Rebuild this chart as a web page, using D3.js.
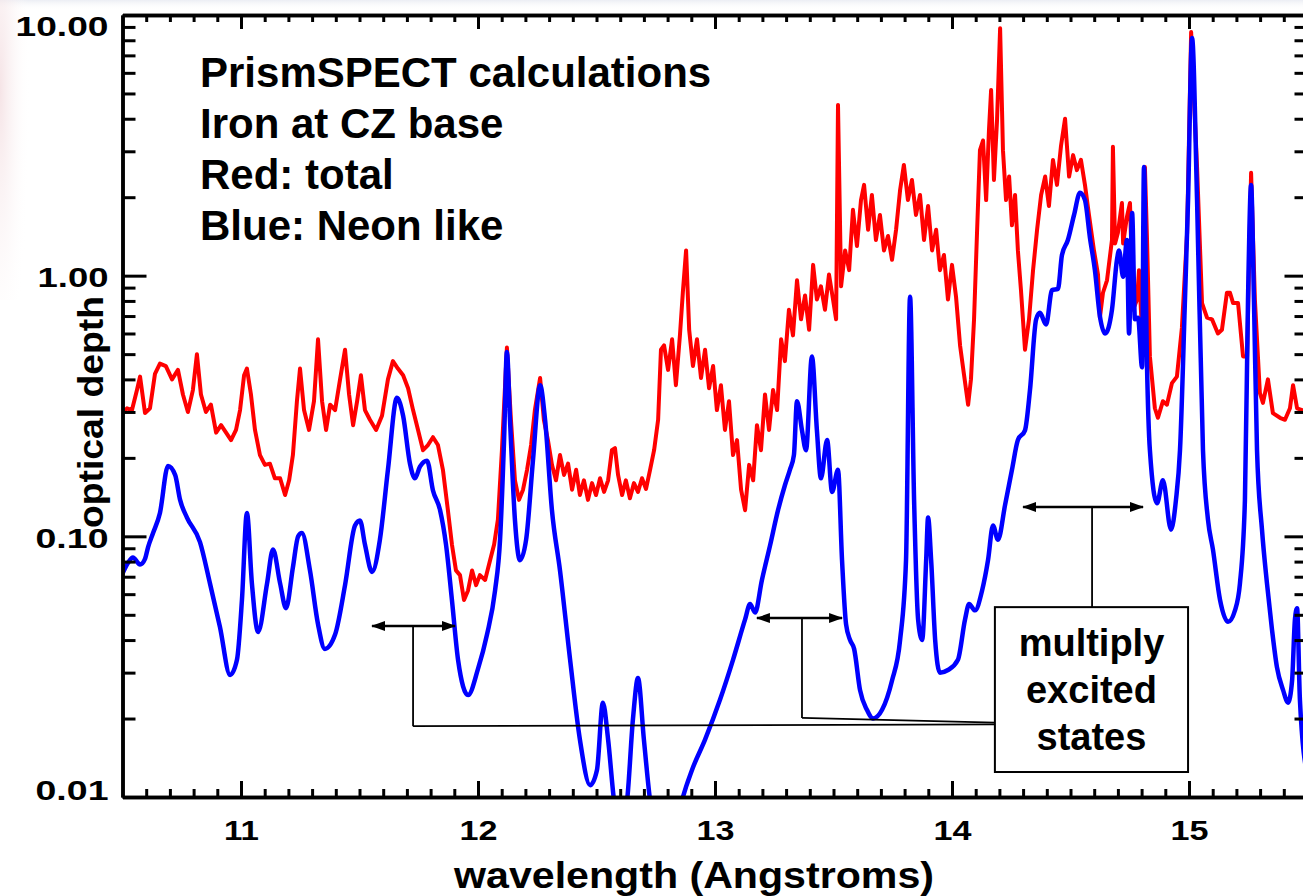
<!DOCTYPE html>
<html>
<head>
<meta charset="utf-8">
<script src="https://cdn.jsdelivr.net/npm/d3@7"></script>
<style>
  body { margin: 0; background: #ffffff; }
  svg { display: block; }
  text { font-family: "Liberation Sans", Arial, Helvetica, sans-serif; font-weight: bold; fill: #000; }
</style>
</head>
<body>
<svg id="chart" width="1303" height="896"></svg>
<script>
// ---------------- DATA ----------------
const xMajorTicks = [11, 12, 13, 14, 15];
const yMajorTicks = [0.01, 0.1, 1, 10];
const yTickLabels = ["0.01", "0.10", "1.00", "10.00"];

// Blue: Neon-like optical depth  [wavelength (A), optical depth]
const neonLike = [
 [10.500,0.072],[10.523,0.079],[10.544,0.083],[10.574,0.078],[10.595,0.082],[10.608,0.091],[10.629,0.103],[10.658,0.123],
 [10.692,0.186],[10.722,0.172],[10.743,0.138],[10.772,0.118],[10.827,0.095],[10.869,0.066],[10.911,0.045],[10.954,0.0294],
 [10.983,0.0336],[11.004,0.057],[11.025,0.123],[11.046,0.066],[11.072,0.043],[11.110,0.066],[11.135,0.089],[11.165,0.066],
 [11.190,0.053],[11.219,0.076],[11.241,0.100],[11.257,0.103],[11.291,0.074],[11.325,0.046],[11.354,0.037],[11.397,0.042],
 [11.439,0.065],[11.481,0.110],[11.502,0.115],[11.523,0.093],[11.553,0.073],[11.586,0.097],[11.620,0.180],[11.658,0.340],
 [11.684,0.290],[11.713,0.190],[11.734,0.167],[11.755,0.185],[11.785,0.195],[11.810,0.150],[11.840,0.126],[11.865,0.093],
 [11.890,0.057],[11.916,0.0335],[11.958,0.0246],[12.000,0.031],[12.038,0.042],[12.072,0.062],[12.093,0.097],[12.110,0.234],
 [12.122,0.510],[12.135,0.280],[12.156,0.115],[12.177,0.081],[12.203,0.097],[12.232,0.196],[12.262,0.380],[12.283,0.280],
 [12.312,0.126],[12.346,0.074],[12.388,0.034],[12.430,0.0166],[12.473,0.0111],[12.502,0.0127],[12.527,0.023],[12.549,0.0166],
 [12.574,0.0097],[12.599,0.0075],[12.629,0.0097],[12.654,0.020],[12.675,0.0286],[12.700,0.0166],[12.726,0.0097],[12.768,0.0063],
 [12.819,0.0063],[12.861,0.0097],[12.903,0.0127],[12.958,0.0166],[13.021,0.0236],[13.076,0.0336],[13.127,0.048],[13.148,0.055],
 [13.169,0.051],[13.198,0.068],[13.232,0.092],[13.266,0.126],[13.295,0.157],[13.316,0.180],[13.333,0.205],[13.346,0.330],
 [13.367,0.255],[13.384,0.214],[13.409,0.490],[13.430,0.255],[13.447,0.167],[13.473,0.234],[13.494,0.148],[13.519,0.180],
 [13.536,0.081],[13.553,0.046],[13.570,0.040],[13.587,0.037],[13.612,0.0257],[13.641,0.0216],[13.667,0.020],[13.705,0.0216],
 [13.747,0.028],[13.781,0.040],[13.806,0.081],[13.823,0.830],[13.840,0.138],[13.857,0.048],[13.874,0.040],[13.891,0.081],
 [13.899,0.118],[13.912,0.081],[13.929,0.040],[13.949,0.030],[13.983,0.0307],[14.025,0.0336],[14.055,0.048],[14.072,0.055],
 [14.097,0.052],[14.127,0.062],[14.152,0.081],[14.173,0.110],[14.194,0.097],[14.224,0.132],[14.253,0.180],[14.278,0.234],
 [14.308,0.255],[14.329,0.364],[14.355,0.680],[14.371,0.720],[14.397,0.650],[14.422,0.880],[14.447,0.890],[14.464,1.20],
 [14.489,1.37],[14.515,1.71],[14.540,2.08],[14.561,1.95],[14.582,1.40],[14.603,1.05],[14.624,0.70],[14.646,0.60],
 [14.675,0.74],[14.696,1.15],[14.705,1.25],[14.722,0.99],[14.738,1.37],[14.747,0.60],[14.760,1.74],[14.772,0.68],
 [14.785,0.69],[14.802,0.445],[14.810,2.61],[14.823,0.445],[14.835,0.214],[14.865,0.134],[14.890,0.164],[14.924,0.106],
 [14.945,0.138],[14.962,0.214],[14.983,0.81],[14.996,1.95],[15.013,8.16],[15.034,1.95],[15.059,0.214],[15.080,0.116],
 [15.101,0.089],[15.131,0.057],[15.165,0.047],[15.194,0.052],[15.215,0.066],[15.236,0.138],[15.249,0.81],[15.262,2.23],
 [15.274,0.81],[15.287,0.214],[15.308,0.106],[15.329,0.066],[15.350,0.044],[15.371,0.0315],[15.397,0.0257],[15.418,0.023],
 [15.435,0.028],[15.447,0.048],[15.456,0.053],[15.468,0.0236],[15.500,0.012]
];

// Red: total optical depth  [wavelength (A), optical depth]
const total = [
 [10.500,0.297],[10.519,0.310],[10.540,0.305],[10.561,0.364],[10.574,0.410],[10.595,0.297],[10.616,0.310],[10.637,0.420],
 [10.658,0.460],[10.683,0.450],[10.709,0.400],[10.734,0.435],[10.755,0.350],[10.776,0.300],[10.797,0.364],[10.814,0.500],
 [10.831,0.350],[10.852,0.300],[10.873,0.320],[10.895,0.250],[10.916,0.267],[10.937,0.250],[10.958,0.234],[10.979,0.256],
 [10.996,0.305],[11.013,0.415],[11.025,0.440],[11.042,0.350],[11.059,0.256],[11.080,0.205],[11.101,0.188],[11.122,0.190],
 [11.143,0.167],[11.165,0.167],[11.186,0.144],[11.203,0.164],[11.219,0.205],[11.236,0.330],[11.249,0.440],[11.266,0.305],
 [11.287,0.256],[11.308,0.330],[11.325,0.570],[11.342,0.330],[11.359,0.256],[11.376,0.320],[11.397,0.305],[11.418,0.400],
 [11.439,0.520],[11.456,0.350],[11.473,0.267],[11.490,0.330],[11.506,0.415],[11.523,0.305],[11.544,0.280],[11.570,0.256],
 [11.595,0.290],[11.620,0.400],[11.641,0.470],[11.662,0.440],[11.684,0.415],[11.705,0.370],[11.726,0.305],[11.747,0.256],
 [11.768,0.214],[11.789,0.224],[11.810,0.240],[11.831,0.224],[11.852,0.180],[11.873,0.126],[11.890,0.093],[11.907,0.074],
 [11.924,0.071],[11.941,0.057],[11.958,0.062],[11.975,0.074],[11.992,0.065],[12.008,0.071],[12.030,0.068],[12.051,0.081],
 [12.068,0.093],[12.084,0.116],[12.101,0.214],[12.122,0.530],[12.139,0.280],[12.156,0.164],[12.173,0.138],[12.190,0.151],
 [12.207,0.180],[12.224,0.224],[12.240,0.305],[12.262,0.405],[12.278,0.280],[12.295,0.234],[12.312,0.188],[12.329,0.164],
 [12.346,0.205],[12.363,0.172],[12.380,0.190],[12.397,0.151],[12.414,0.180],[12.430,0.144],[12.447,0.164],[12.464,0.138],
 [12.481,0.160],[12.498,0.144],[12.515,0.167],[12.532,0.148],[12.549,0.164],[12.565,0.214],[12.578,0.218],[12.591,0.172],
 [12.608,0.144],[12.624,0.164],[12.641,0.140],[12.658,0.160],[12.675,0.148],[12.692,0.167],[12.709,0.152],[12.726,0.180],
 [12.743,0.214],[12.760,0.280],[12.772,0.520],[12.785,0.540],[12.802,0.435],[12.819,0.570],[12.835,0.380],[12.852,0.590],
 [12.865,0.880],[12.878,1.25],[12.891,0.620],[12.907,0.450],[12.924,0.570],[12.941,0.405],[12.958,0.520],[12.975,0.370],
 [12.992,0.450],[13.008,0.305],[13.025,0.380],[13.042,0.256],[13.059,0.330],[13.076,0.205],[13.093,0.234],[13.110,0.151],
 [13.127,0.126],[13.144,0.188],[13.161,0.164],[13.177,0.267],[13.194,0.214],[13.211,0.350],[13.228,0.256],[13.245,0.364],
 [13.262,0.305],[13.279,0.570],[13.295,0.470],[13.312,0.740],[13.329,0.590],[13.346,0.960],[13.363,0.680],[13.380,0.840],
 [13.397,0.620],[13.414,1.10],[13.430,0.810],[13.447,0.910],[13.464,0.740],[13.481,1.01],[13.498,0.810],[13.511,0.680],
 [13.519,4.52],[13.532,0.910],[13.549,1.25],[13.566,1.05],[13.582,1.79],[13.599,1.30],[13.616,1.95],[13.629,2.23],
 [13.646,1.50],[13.662,2.04],[13.679,1.37],[13.696,1.71],[13.713,1.25],[13.730,1.42],[13.747,1.15],[13.764,1.50],
 [13.781,2.13],[13.797,2.66],[13.814,1.95],[13.831,2.33],[13.848,1.71],[13.865,2.04],[13.882,1.37],[13.899,1.85],
 [13.916,1.25],[13.933,1.50],[13.949,1.05],[13.966,1.20],[13.983,0.810],[14.000,1.10],[14.017,0.830],[14.034,0.540],
 [14.051,0.415],[14.068,0.320],[14.080,0.400],[14.093,0.680],[14.106,1.50],[14.118,3.03],[14.131,3.30],[14.144,1.95],
 [14.156,3.62],[14.165,5.15],[14.177,2.33],[14.190,3.95],[14.203,8.90],[14.215,3.03],[14.228,1.95],[14.241,2.40],
 [14.253,1.56],[14.266,2.04],[14.278,1.25],[14.291,0.880],[14.308,0.520],[14.325,0.680],[14.342,1.05],[14.359,1.50],
 [14.376,2.04],[14.393,2.40],[14.409,1.85],[14.426,2.78],[14.443,2.23],[14.460,3.15],[14.477,4.00],[14.494,2.40],
 [14.511,2.90],[14.527,2.54],[14.544,2.78],[14.561,2.23],[14.578,1.71],[14.599,1.25],[14.616,1.01],[14.624,0.690],
 [14.637,0.860],[14.654,0.960],[14.675,1.37],[14.679,3.12],[14.688,1.33],[14.700,1.46],[14.717,1.90],[14.722,1.33],
 [14.738,1.68],[14.751,1.90],[14.764,0.740],[14.781,0.810],[14.789,1.05],[14.802,0.600],[14.814,2.61],[14.823,1.37],
 [14.835,0.490],[14.856,0.310],[14.869,0.285],[14.890,0.330],[14.907,0.320],[14.928,0.387],[14.949,0.410],[14.970,0.630],
 [14.992,1.46],[15.009,8.60],[15.021,4.80],[15.034,2.61],[15.055,0.785],[15.076,0.690],[15.097,0.680],[15.122,0.600],
 [15.139,0.620],[15.160,0.860],[15.173,0.860],[15.186,0.785],[15.207,0.785],[15.228,0.490],[15.245,0.490],[15.262,2.48],
 [15.278,0.810],[15.299,0.355],[15.312,0.325],[15.333,0.400],[15.354,0.297],[15.384,0.285],[15.405,0.280],[15.426,0.310],
 [15.439,0.380],[15.456,0.310],[15.477,0.305],[15.500,0.300]
];

const noteLines = ["PrismSPECT calculations", "Iron at CZ base", "Red: total", "Blue: Neon like"];
const boxLines = ["multiply", "excited", "states"];
// double-headed arrows marking multiply excited state regions (data coords)
const arrowSpans = [
  { from: 11.553, to: 11.903, depth: 0.0453, stemX: 11.726, stemTo: 0.0187 },
  { from: 13.177, to: 13.536, depth: 0.0486, stemX: 13.367, stemTo: 0.0201 },
  { from: 14.300, to: 14.806, depth: 0.1296, stemX: 14.591, stemTo: 0.0535 }
];
const boxExtent = { x0: 14.181, x1: 14.996, yTop: 0.0535, yBottom: 0.01247 };

// ---------------- CHART ----------------
const W = 1303, H = 896;
const svg = d3.select("#chart");
const x = d3.scaleLinear().domain([10.5, 15.5]).range([122.5, 1307.5]);
const y = d3.scaleLog().domain([0.01, 10]).range([797, 15]);

// faint background artefacts of the original scan
const defs = svg.append("defs");
const rg = defs.append("radialGradient").attr("id", "pinkfade")
  .attr("cx", 0).attr("cy", 0.3).attr("r", 1).attr("fx", 0).attr("fy", 0.3);
rg.append("stop").attr("offset", "0%").attr("stop-color", "#f3dde0").attr("stop-opacity", 0.8);
rg.append("stop").attr("offset", "100%").attr("stop-color", "#ffffff").attr("stop-opacity", 0);
const lg2 = defs.append("linearGradient").attr("id", "topfade").attr("x1", 0).attr("x2", 0).attr("y1", 0).attr("y2", 1);
lg2.append("stop").attr("offset", "0%").attr("stop-color", "#eceef4").attr("stop-opacity", 1);
lg2.append("stop").attr("offset", "100%").attr("stop-color", "#ffffff").attr("stop-opacity", 0);
svg.append("rect").attr("x", 0).attr("y", 0).attr("width", W).attr("height", 10).attr("fill", "url(#topfade)");
svg.append("rect").attr("x", 0).attr("y", 0).attr("width", 30).attr("height", 300).attr("fill", "url(#pinkfade)");

defs.append("clipPath").attr("id", "plotclip")
  .append("rect").attr("x", x.range()[0]).attr("y", y.range()[1])
  .attr("width", x.range()[1] - x.range()[0]).attr("height", y.range()[0] - y.range()[1]);

const mk = defs.append("marker").attr("id", "head").attr("markerUnits", "userSpaceOnUse")
  .attr("viewBox", "0 0 14 10").attr("refX", 13).attr("refY", 5)
  .attr("markerWidth", 14).attr("markerHeight", 10).attr("orient", "auto-start-reverse");
mk.append("path").attr("d", "M0,0 L14,5 L0,10 Z").attr("fill", "#000");

// curves
const plot = svg.append("g").attr("clip-path", "url(#plotclip)");
const lineRed = d3.line().x(d => x(d[0])).y(d => y(d[1])).curve(d3.curveLinear);
const lineBlue = d3.line().x(d => x(d[0])).y(d => y(d[1])).curve(d3.curveMonotoneX);
plot.append("path").datum(total).attr("d", lineRed)
  .attr("fill", "none").attr("stroke", "#ff0000").attr("stroke-width", 4).attr("stroke-linejoin", "round");
plot.append("path").datum(neonLike).attr("d", lineBlue)
  .attr("fill", "none").attr("stroke", "#0000ff").attr("stroke-width", 4.5).attr("stroke-linejoin", "round");

// axes
function styleAxis(g) {
  g.attr("font-size", null).attr("font-family", null);
  g.select(".domain").attr("stroke", "#000").attr("stroke-width", 3.5);
  g.selectAll(".tick line").attr("stroke", "#000").attr("stroke-width", 3);
}
const minorX = d3.range(106, 155).filter(i => i % 10 !== 0).map(i => i / 10);
const minorY = [];
[0.01, 0.1, 1].forEach(dec => { for (let k = 2; k <= 9; k++) minorY.push(dec * k); });

// bottom
svg.append("g").attr("transform", `translate(0,${y.range()[0]})`)
  .call(d3.axisBottom(x).tickValues(minorX).tickSize(-8).tickSizeOuter(0).tickFormat(""))
  .call(styleAxis);
const bottom = svg.append("g").attr("transform", `translate(0,${y.range()[0]})`)
  .call(d3.axisBottom(x).tickValues(xMajorTicks).tickSize(-16).tickSizeOuter(0).tickPadding(24).tickFormat(d3.format("d")))
  .call(styleAxis);
bottom.selectAll("text").attr("font-size", 27)
  .attr("textLength", d => d === 11 ? 35 : 38).attr("lengthAdjust", "spacingAndGlyphs");

// top
svg.append("g").attr("transform", `translate(0,${y.range()[1]})`)
  .call(d3.axisTop(x).tickValues(minorX).tickSize(-7).tickSizeOuter(0).tickFormat(""))
  .call(styleAxis);
svg.append("g").attr("transform", `translate(0,${y.range()[1]})`)
  .call(d3.axisTop(x).tickValues(xMajorTicks).tickSize(-14).tickSizeOuter(0).tickFormat(""))
  .call(styleAxis);

// left
svg.append("g").attr("transform", `translate(${x.range()[0]},0)`)
  .call(d3.axisLeft(y).tickValues(minorY).tickSize(-13).tickSizeOuter(0).tickFormat(""))
  .call(styleAxis);
const left = svg.append("g").attr("transform", `translate(${x.range()[0]},0)`)
  .call(d3.axisLeft(y).tickValues(yMajorTicks).tickSize(-24).tickSizeOuter(0).tickPadding(14)
    .tickFormat((d, i) => yTickLabels[i]))
  .call(styleAxis);
const labelWidth = { "0.01": 73, "0.10": 73, "1.00": 71, "10.00": 93 };
left.selectAll("text").attr("font-size", 27)
  .attr("dy", d => d === 10 ? "20px" : (d === 0.01 ? "2px" : "11px"))
  .attr("textLength", (d, i) => labelWidth[yTickLabels[i]]).attr("lengthAdjust", "spacingAndGlyphs");

// right
svg.append("g").attr("transform", `translate(${x.range()[1]},0)`)
  .call(d3.axisRight(y).tickValues(minorY).tickSize(-13).tickSizeOuter(0).tickFormat(""))
  .call(styleAxis);
svg.append("g").attr("transform", `translate(${x.range()[1]},0)`)
  .call(d3.axisRight(y).tickValues(yMajorTicks).tickSize(-23).tickSizeOuter(0).tickFormat(""))
  .call(styleAxis);

// axis titles
svg.append("text").attr("x", 694).attr("y", 888).attr("text-anchor", "middle")
  .attr("font-size", 37).attr("textLength", 480).attr("lengthAdjust", "spacingAndGlyphs")
  .text("wavelength (Angstroms)");
svg.append("text").attr("transform", "translate(103,412) rotate(-90)").attr("text-anchor", "middle")
  .attr("font-size", 35).attr("textLength", 232).attr("lengthAdjust", "spacingAndGlyphs")
  .text("optical depth");

// notes
svg.append("g").selectAll("text").data(noteLines).join("text")
  .attr("x", 200).attr("y", (d, i) => 87 + i * 51).attr("font-size", 42).text(d => d);

// annotation arrows, stems and box
const ann = svg.append("g").attr("stroke", "#000").attr("fill", "none");
arrowSpans.forEach(a => {
  ann.append("line").attr("x1", x(a.from)).attr("x2", x(a.to)).attr("y1", y(a.depth)).attr("y2", y(a.depth))
    .attr("stroke-width", 2.5).attr("marker-start", "url(#head)").attr("marker-end", "url(#head)");
  ann.append("line").attr("x1", x(a.stemX)).attr("x2", x(a.stemX)).attr("y1", y(a.depth)).attr("y2", y(a.stemTo))
    .attr("stroke-width", 1.8);
});
// horizontal leaders into the box from the two lower stems
ann.append("line").attr("x1", x(arrowSpans[0].stemX)).attr("y1", y(arrowSpans[0].stemTo))
  .attr("x2", x(boxExtent.x0)).attr("y2", y(0.0190)).attr("stroke-width", 1.8);
ann.append("line").attr("x1", x(arrowSpans[1].stemX)).attr("y1", y(arrowSpans[1].stemTo))
  .attr("x2", x(boxExtent.x0)).attr("y2", y(0.0193)).attr("stroke-width", 1.8);
ann.append("rect").attr("x", x(boxExtent.x0)).attr("y", y(boxExtent.yTop))
  .attr("width", x(boxExtent.x1) - x(boxExtent.x0)).attr("height", y(boxExtent.yBottom) - y(boxExtent.yTop))
  .attr("fill", "#fff").attr("stroke-width", 2);
svg.append("g").selectAll("text").data(boxLines).join("text")
  .attr("x", (x(boxExtent.x0) + x(boxExtent.x1)) / 2).attr("y", (d, i) => 656 + i * 47)
  .attr("text-anchor", "middle").attr("font-size", 38).text(d => d);
</script>
</body>
</html>
